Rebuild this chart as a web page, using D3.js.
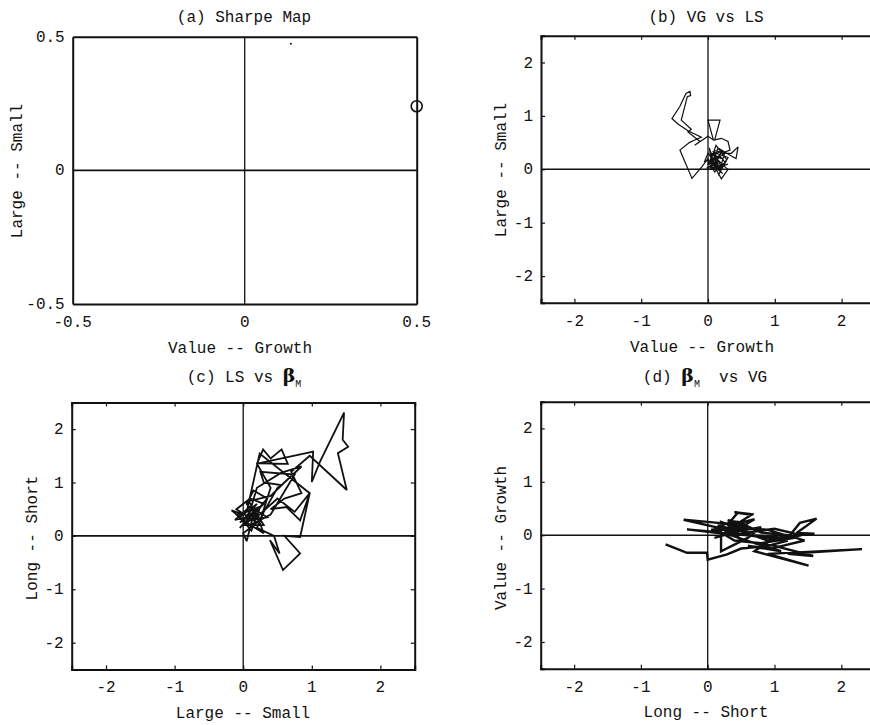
<!DOCTYPE html>
<html><head><meta charset="utf-8">
<script src="https://cdn.jsdelivr.net/npm/d3@7"></script>
<style>
html,body{margin:0;padding:0;background:#fff;}
text{font-family:"Liberation Mono","DejaVu Sans Mono",monospace;fill:#111;}
</style></head>
<body>
<svg id="c" width="870" height="725"></svg>
<script>
// ---- data ----
const ticksA = [-0.5, 0, 0.5];
const ticksBCD = [-2, -1, 0, 1, 2];
const sharpeCircle = [[0.5, 0.24]];
const sharpeDot = [[0.134, 0.474]];

// (b) VG vs LS trajectory
const pathB = [
 [0.05,0.15],[0.15,0.1],[0.1,0.25],[0.2,0.2],[0.05,0.3],[0.25,0.05],[0.3,0.0],[0.2,-0.18],
 [0.12,0.0],[0.3,0.1],[0.05,0.0],[0.0,0.2],[-0.09,0.05],[-0.24,-0.17],[-0.42,0.36],[-0.28,0.5],
 [-0.2,0.55],[-0.1,0.6],[-0.3,0.72],[-0.45,0.85],[-0.54,0.95],[-0.42,1.18],[-0.33,1.42],[-0.27,1.46],
 [-0.26,1.38],[-0.31,1.36],[-0.4,0.92],[-0.25,0.75],[-0.3,0.7],[-0.12,0.52],[-0.2,0.45],[0.0,0.62],
 [0.08,0.55],[0.0,0.92],[0.18,0.92],[0.1,0.55],[0.2,0.58],[0.3,0.52],[0.33,0.36],[0.2,0.3],
 [0.35,0.3],[0.45,0.42],[0.42,0.2],[0.35,0.25],[0.15,0.4],[0.05,0.05],[0.1,-0.05],[0.2,0.1],
 [0.25,0.3],[0.1,0.35],[0.0,0.1],[0.15,0.15],[0.08,0.22],[0.18,0.0],[0.28,0.18],[0.12,0.45],
 [0.03,0.12],[0.22,-0.08],[0.1,0.08],[0.02,0.4],[0.06,0.05],[0.18,0.25],[0.26,0.12],[0.14,0.05],
 [0.0,0.3],[-0.05,0.15],[0.12,0.18],[0.22,0.35],[0.04,0.25],[0.16,-0.1],[0.3,0.22],[0.08,0.32],
 [0.2,0.05],[-0.02,0.02],[0.1,0.12]
];

// (c) LS vs beta_M trajectory
const pathC = [
 [0.05,0.2],[-0.1,0.4],[0.2,0.5],[0.0,0.3],[-0.17,0.48],[0.1,0.36],[-0.05,0.15],[0.3,0.6],
 [0.1,0.7],[-0.1,0.5],[0.2,0.25],[0.0,0.05],[0.05,-0.1],[0.15,0.4],[0.35,0.7],[0.15,0.85],
 [0.05,0.6],[0.25,0.3],[0.4,0.9],[0.2,1.35],[0.29,1.62],[0.4,1.45],[0.56,1.62],[0.65,1.35],
 [0.22,1.36],[1.02,1.58],[1.0,1.01],[1.12,1.39],[1.47,2.31],[1.45,1.8],[1.53,1.67],[1.38,1.55],
 [1.51,0.86],[0.97,1.5],[0.7,1.2],[0.85,0.8],[0.6,0.7],[0.4,0.5],[0.63,0.54],[0.83,0.29],
 [0.97,0.8],[0.83,-0.02],[0.6,0.0],[0.83,-0.33],[0.58,-0.64],[0.39,-0.08],[0.53,-0.33],[0.45,0.0],
 [0.2,0.15],[0.3,0.45],[0.5,0.9],[0.55,0.95],[0.3,1.0],[0.25,1.2],[0.75,1.15],[0.4,0.4],
 [0.1,0.2],[0.0,0.3],[0.2,0.6],[-0.05,0.35],[0.12,0.1],[0.25,0.55],[0.05,0.45],[0.24,1.54],
 [0.97,0.8],[0.75,0.45],[0.5,0.7],[0.15,0.3],[0.35,0.35],[0.1,0.55],[-0.12,0.3],[0.22,0.4],
 [0.0,0.2],[0.3,0.2],[0.08,0.65],[0.4,0.75],[0.6,1.0],[0.85,1.3],[0.55,1.18],[0.2,0.9],
 [0.05,0.25],[0.3,0.05],[0.18,0.45],[-0.05,0.25]
];

// (d) beta_M vs VG trajectory
const pathD = [
 [-0.63,-0.17],[-0.31,-0.33],[-0.01,-0.33],[0.0,-0.46],[0.29,-0.36],[0.5,-0.25],[0.9,-0.2],[1.2,-0.1],
 [0.6,0.0],[0.3,0.1],[-0.36,0.29],[0.0,0.25],[0.4,0.2],[0.7,0.3],[0.5,0.15],[0.9,0.1],
 [1.3,-0.05],[0.8,-0.15],[0.4,-0.1],[0.2,0.05],[-0.31,0.11],[0.1,0.05],[0.6,0.0],[1.2,-0.05],
 [1.38,0.23],[1.63,0.31],[1.33,0.04],[1.6,0.03],[1.0,-0.05],[0.7,-0.3],[1.51,-0.57],[0.9,-0.35],
 [2.31,-0.26],[1.2,-0.35],[1.58,-0.39],[1.0,-0.2],[0.5,-0.1],[0.3,0.2],[0.45,0.42],[0.69,0.39],
 [0.4,0.43],[0.65,0.38],[0.3,0.1],[0.05,0.1],[0.25,0.15],[0.35,0.05],[0.8,0.15],[0.6,-0.05],
 [0.2,-0.3],[0.2,0.25],[0.5,0.12],[0.25,0.05],[0.55,0.22],[0.3,0.28],[0.6,0.05],[1.0,0.12],
 [1.4,0.0],[0.9,-0.1],[0.5,0.08],[0.15,0.18],[0.45,0.25],[0.8,0.05],[1.2,0.0],[1.45,-0.1],
 [0.95,-0.25],[0.6,-0.2],[1.1,-0.3],[0.7,-0.15],[0.3,0.02],[0.1,-0.05]
];

// ---- layout ----
const svg = d3.select("#c");
const panels = [
 {id:"a", left:72.7, top:36.7, w:344, h:267.3, dom:[-0.5,0.5], ticks:ticksA, fmt:d=>d===0?"0":String(d),
  title:"(a) Sharpe Map", tx:244, ty:22, xlab:"Value -- Growth", xlx:240, xly:353, ylab:"Large -- Small", ylx:22, yly:171, path:null, sw:0},
 {id:"b", left:541, top:35.8, w:334, h:267, dom:[-2.5,2.5], ticks:ticksBCD, fmt:d=>String(d),
  title:"(b) VG vs LS", tx:706, ty:22, xlab:"Value -- Growth", xlx:702, xly:352, ylab:"Large -- Small", ylx:506, yly:170, path:pathB, sw:1.2},
 {id:"c", left:71.7, top:402.4, w:343, h:267, dom:[-2.5,2.5], ticks:ticksBCD, fmt:d=>String(d),
  title:"c", tx:244, ty:382, xlab:"Large -- Small", xlx:243, xly:718, ylab:"Long -- Short", ylx:37, yly:538, path:pathC, sw:1.8},
 {id:"d", left:540.7, top:401.7, w:334, h:267, dom:[-2.5,2.5], ticks:ticksBCD, fmt:d=>String(d),
  title:"d", tx:705, ty:382, xlab:"Long -- Short", xlx:706, xly:717, ylab:"Value -- Growth", ylx:506, yly:538, path:pathD, sw:2.4}
];

panels.forEach(p => {
  const x = d3.scaleLinear().domain(p.dom).range([p.left, p.left + p.w]);
  const y = d3.scaleLinear().domain(p.dom).range([p.top + p.h, p.top]);
  const g = svg.append("g");

  g.append("clipPath").attr("id","clip"+p.id).append("rect")
    .attr("x",p.left).attr("y",p.top).attr("width",p.w).attr("height",p.h);

  // crosshair
  g.append("line").attr("x1",p.left).attr("x2",p.left+p.w).attr("y1",y(0)).attr("y2",y(0))
    .attr("stroke","#111").attr("stroke-width",1.6);
  g.append("line").attr("x1",x(0)).attr("x2",x(0)).attr("y1",p.top).attr("y2",p.top+p.h)
    .attr("stroke","#111").attr("stroke-width",1.3);

  // axes with inward ticks
  const tl = p.id === "a" ? 0 : 4;
  const ax = [
    d3.axisBottom(x).tickValues(p.ticks).tickSize(-tl).tickFormat(""),
    d3.axisTop(x).tickValues(p.ticks).tickSize(-tl).tickFormat(""),
    d3.axisLeft(y).tickValues(p.ticks).tickSize(-tl).tickFormat(""),
    d3.axisRight(y).tickValues(p.ticks).tickSize(-tl).tickFormat("")
  ];
  const tr = [`translate(0,${p.top+p.h})`, `translate(0,${p.top})`, `translate(${p.left},0)`, `translate(${p.left+p.w},0)`];
  ax.forEach((a,i) => {
    const ag = g.append("g").attr("transform",tr[i]).call(a);
    ag.select(".domain").attr("stroke","#111").attr("stroke-width",2);
    ag.selectAll(".tick line").attr("stroke","#111").attr("stroke-width",1.2);
  });

  // tick labels
  g.selectAll(".xl").data(p.ticks).join("text")
    .attr("x", d => x(d)).attr("y", p.top + p.h + 23)
    .attr("text-anchor","middle").attr("font-size",16).text(p.fmt);
  g.selectAll(".yl").data(p.ticks).join("text")
    .attr("x", p.left - 8).attr("y", d => y(d) + 5)
    .attr("text-anchor","end").attr("font-size",16).text(p.fmt);

  // axis titles
  g.append("text").attr("x",p.xlx).attr("y",p.xly).attr("text-anchor","middle")
    .attr("font-size",16).text(p.xlab);
  g.append("text").attr("transform",`translate(${p.ylx},${p.yly}) rotate(-90)`)
    .attr("text-anchor","middle").attr("font-size",16).text(p.ylab);

  // titles
  const t = g.append("text").attr("x",p.tx).attr("y",p.ty).attr("text-anchor","middle").attr("font-size",16);
  if (p.title === "c") {
    t.append("tspan").text("(c) LS vs ");
    t.append("tspan").attr("font-family","'DejaVu Serif',serif").attr("font-size",19).attr("font-weight","bold").text("β");
    t.append("tspan").attr("font-size",10).attr("dy",5).text("M");
  } else if (p.title === "d") {
    t.append("tspan").text("(d) ");
    t.append("tspan").attr("font-family","'DejaVu Serif',serif").attr("font-size",19).attr("font-weight","bold").text("β");
    t.append("tspan").attr("font-size",10).attr("dy",5).text("M");
    t.append("tspan").attr("dy",-5).text("\u00a0\u00a0vs VG");
  } else {
    t.text(p.title);
  }

  // trajectories
  if (p.path) {
    const line = d3.line().x(d => x(d[0])).y(d => y(d[1]));
    g.append("path").datum(p.path).attr("d", line)
      .attr("clip-path",`url(#clip${p.id})`)
      .attr("fill","none").attr("stroke","#111").attr("stroke-width",p.sw)
      .attr("stroke-linejoin","miter").attr("stroke-miterlimit",3);
  }

  if (p.id === "a") {
    g.selectAll(".circ").data(sharpeCircle).join("circle")
      .attr("cx", d => x(d[0])).attr("cy", d => y(d[1])).attr("r",5.5)
      .attr("fill","none").attr("stroke","#111").attr("stroke-width",1.6);
    g.selectAll(".dot").data(sharpeDot).join("circle")
      .attr("cx", d => x(d[0])).attr("cy", d => y(d[1])).attr("r",1)
      .attr("fill","#111");
  }
});
</script>
</body></html>
